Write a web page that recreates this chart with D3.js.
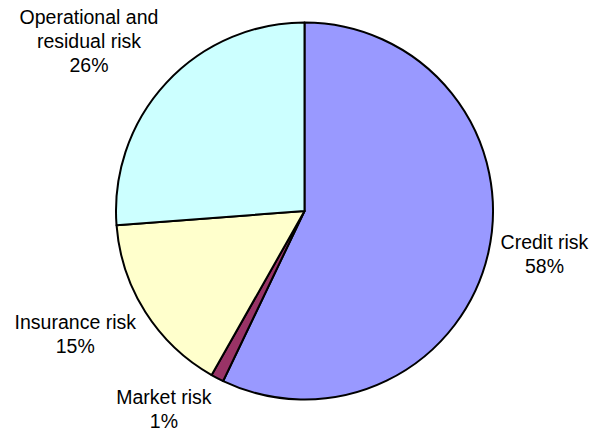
<!DOCTYPE html>
<html>
<head>
<meta charset="utf-8">
<script src="https://cdn.jsdelivr.net/npm/d3@7"></script>
<style>
  body { margin: 0; background: #fff; }
  text { font-family: "Liberation Sans", Arial, sans-serif; fill: #000; }
</style>
</head>
<body>
<script>
// slices, clockwise from 12 o'clock
var categories = ["Credit risk", "Market risk", "Insurance risk", "Operational and\nresidual risk"];
var values = [57.1, 1.1, 15.6, 26.2];
var pctLabels = ["58%", "1%", "15%", "26%"];
var colors = ["#9999ff", "#993366", "#ffffcc", "#ccffff"];

var width = 597;
var height = 432;
var cx = 304.5, cy = 211, radius = 188.5;
var labelR = 200, lineH = 24, fontSize = 19.5;
// small hand tweaks so the labels sit where the original put them
var labelNudge = [[2, -6], [-26, 0], [-9, 4], [-18, -10]];

var svg = d3.select("body").append("svg")
  .attr("width", width)
  .attr("height", height);

var data = categories.map(function (c, i) {
  return { name: c, value: values[i], pct: pctLabels[i], color: colors[i], nudge: labelNudge[i] };
});

var pie = d3.pie()
  .sort(null)
  .value(function (d) { return d.value; });

var arc = d3.arc()
  .innerRadius(0)
  .outerRadius(radius);

var g = svg.append("g")
  .attr("transform", "translate(" + cx + "," + cy + ")");

var slices = pie(data);

g.selectAll("path.slice")
  .data(slices)
  .enter()
  .append("path")
  .attr("class", "slice")
  .attr("d", arc)
  .attr("fill", function (d) { return d.data.color; })
  .attr("stroke", "#000")
  .attr("stroke-width", 2)
  .attr("stroke-linejoin", "round");

// labels: anchor on a ring outside the pie, then push the text block outward
var labels = g.selectAll("text.lbl")
  .data(slices)
  .enter()
  .append("text")
  .attr("class", "lbl")
  .attr("text-anchor", "middle")
  .style("font-size", fontSize + "px");

labels.each(function (d) {
  var t = d3.select(this);
  var lines = d.data.name.split("\n").concat([d.data.pct]);
  lines.forEach(function (l, i) {
    t.append("tspan").attr("x", 0).attr("y", i * lineH).text(l);
  });
  var bb = this.getBBox();
  var a = (d.startAngle + d.endAngle) / 2;
  var sx = Math.sin(a), sy = -Math.cos(a);
  var px = sx * labelR + sx * bb.width / 2;
  var py = sy * labelR + sy * bb.height / 2;
  var ox = px + d.data.nudge[0];
  var oy = py - (bb.y + bb.height / 2) + d.data.nudge[1];
  t.attr("transform", "translate(" + ox + "," + oy + ")");
});
</script>
</body>
</html>
